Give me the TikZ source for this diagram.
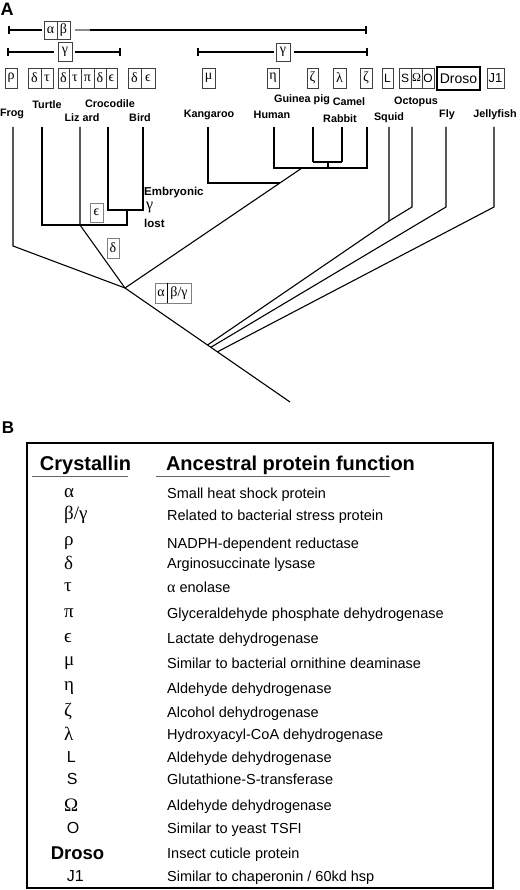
\documentclass[tikz,border=0pt]{standalone}
\usepackage{fontspec}
\setmainfont{Liberation Sans}
\newfontfamily\grk{Liberation Serif}
\usetikzlibrary{calc}

\tikzset{
  spc/.style={inner sep=0pt, font=\fontsize{10.8}{13}\selectfont\bfseries},
  cell/.style={draw=black!75, line width=0.6pt, inner sep=0pt, minimum height=20pt,
    font=\grk\fontsize{14}{16}\selectfont},
  latcell/.style={cell, font=\fontsize{12}{14}\selectfont},
  rng/.style={line width=1.2pt},
  tree/.style={line width=1.1pt},
  sym/.style={inner sep=0pt, font=\grk\fontsize{19}{21}\selectfont},
  fn/.style={inner sep=0pt, font=\fontsize{14.5}{17}\selectfont},
  hdr/.style={inner sep=0pt, font=\fontsize{20}{22}\selectfont\bfseries},
  panel/.style={inner sep=0pt, font=\fontsize{18}{20}\selectfont\bfseries}
}

\begin{document}
\begin{tikzpicture}[x=1pt,y=-1pt]
\useasboundingbox (0,0) rectangle (519,890);

\begin{scope} %PANEL A
\node[panel] (pa) at (7,9) {A};

% ranges
\node[cell, minimum width=13pt, minimum height=18pt] (ra) at (50.5,30) {α};
\node[cell, minimum width=13pt, minimum height=18pt] (rb) at (63.5,30) {β};
\coordinate (r1l) at (9,30); \coordinate (r1g) at (90,30); \coordinate (r1r) at (366,30);
\draw[rng] (r1l) -- ([xshift=-2pt]ra.west);
\draw[rng, black!45] ([xshift=5pt]rb.east) -- (r1g);
\draw[rng] (r1g) -- (r1r);
\draw[rng] (r1l) ++(0,-4) -- ++(0,8);
\draw[rng] (r1r) ++(0,-4) -- ++(0,8);

\node[cell, minimum width=14pt, minimum height=19pt] (rg1) at (65,52) {γ};
\coordinate (r2l) at (8,52); \coordinate (r2r) at (120,52);
\draw[rng] (r2l) -- ([xshift=-4pt]rg1.west);
\draw[rng] ([xshift=3pt]rg1.east) -- (r2r);
\draw[rng] (r2l) ++(0,-4) -- ++(0,8);
\draw[rng] (r2r) ++(0,-4) -- ++(0,8);

\node[cell, minimum width=14pt, minimum height=18pt] (rg2) at (283,52) {γ};
\coordinate (r3l) at (198,52); \coordinate (r3r) at (367,52);
\draw[rng] (r3l) -- ([xshift=-2pt]rg2.west);
\draw[rng] ([xshift=4pt]rg2.east) -- (r3r);
\draw[rng] (r3l) ++(0,-4) -- ++(0,8);
\draw[rng] (r3r) ++(0,-4) -- ++(0,8);

% crystallin boxes
\node[cell, minimum width=12pt] (c1) at (11,78) {ρ};
\node[cell, minimum width=13pt] (c2) at (34.5,78) {δ};
\node[cell, minimum width=12pt] (c3) at (47,78) {τ};
\node[cell, minimum width=11pt] (c4) at (63.5,78) {δ};
\node[cell, minimum width=12pt] (c5) at (75,78) {τ};
\node[cell, minimum width=13pt] (c6) at (87.5,78) {π};
\node[cell, minimum width=12pt] (c7) at (100,78) {δ};
\node[cell, minimum width=11pt] (c8) at (111.5,78) {ϵ};
\node[cell, minimum width=13pt] (c9) at (134.5,78) {δ};
\node[cell, minimum width=14pt] (c10) at (148,78) {ϵ};
\node[cell, minimum width=13pt] (c11) at (208.5,78) {μ};
\node[cell, minimum width=12pt] (c12) at (273,78) {η};
\node[cell, minimum width=11pt] (c13) at (312.5,78) {ζ};
\node[cell, minimum width=13pt] (c14) at (339.5,78) {λ};
\node[cell, minimum width=12pt] (c15) at (366,78) {ζ};
\node[latcell, minimum width=11pt] (c16) at (387.5,78) {L};
\node[latcell, minimum width=12pt] (c17) at (405,78) {S};
\node[cell, minimum width=11pt, font=\grk\fontsize{12}{14}\selectfont] (c18) at (416.5,78) {Ω};
\node[latcell, minimum width=12pt] (c19) at (428,78) {O};
\node[latcell, draw=black, line width=1.2pt, minimum width=43pt, minimum height=23pt,
  font=\fontsize{14}{16}\selectfont] (c20) at (458.5,78.5) {Droso};
\node[latcell, minimum width=17pt, font=\fontsize{13}{15}\selectfont] (c21) at (495.5,78) {J1};

% species
\node[spc] (frog) at (12,114) {Frog};
\node[spc] (turtle) at (47,105) {Turtle};
\node[spc] (croc) at (110,104) {Crocodile};
\node[spc] (lizard) at (82,118) {Liz ard};
\node[spc] (bird) at (140,118) {Bird};
\node[spc] (kang) at (209,115) {Kangaroo};
\node[spc] (human) at (272,115) {Human};
\node[spc] (guinea) at (302,100) {Guinea pig};
\node[spc] (camel) at (349,102) {Camel};
\node[spc] (rabbit) at (340,119) {Rabbit};
\node[spc] (squid) at (389,118) {Squid};
\node[spc] (octo) at (416,102) {Octopus};
\node[spc] (fly) at (447,115) {Fly};
\node[spc] (jelly) at (495,115) {Jellyfish};

% tree
\coordinate (frogT) at (13,127);  \coordinate (frogK) at (13,246);
\coordinate (turtT) at (42,127);  \coordinate (turtK) at (42,225);
\coordinate (lizT) at (80,127);   \coordinate (lizK) at (80,225);
\coordinate (rept) at (127,225);  \coordinate (archK) at (127,210);
\coordinate (crocT) at (108,127); \coordinate (crocK) at (108,210);
\coordinate (birdT) at (143,127); \coordinate (birdK) at (143,210);
\coordinate (vroot) at (125,288); \coordinate (mamK) at (302,168);
\coordinate (root) at (290,402);
\coordinate (kanT) at (208,127);  \coordinate (kanK) at (208,183);
\coordinate (kanJ) at ($(vroot)!0.875!(mamK)$);
\coordinate (humT) at (274,127);  \coordinate (humK) at (274,168);
\coordinate (camT) at (367,127);  \coordinate (camK) at (367,168);
\coordinate (guiT) at (313,127);  \coordinate (guiK) at (313,162);
\coordinate (rabT) at (342,127);  \coordinate (rabK) at (342,162);
\coordinate (gloK) at (328,162);  \coordinate (gloJ) at (328,168);
\coordinate (squT) at (389,127);  \coordinate (squK) at (389,221);
\coordinate (octT) at (412,127);  \coordinate (octK) at (412,207);
\coordinate (flyT) at (446,127);  \coordinate (flyK) at (446,207);
\coordinate (jelT) at (494,127);  \coordinate (jelK) at (494,207);
\coordinate (invJ) at ($(vroot)!0.5!(root)$);
\coordinate (flyJ) at ($(vroot)!0.52!(root)$);
\coordinate (jelJ) at ($(vroot)!0.56!(root)$);

\draw[tree] (frogT) -- (frogK) -- (vroot);
\draw[tree] (turtT) -- (turtK) -- (rept) -- (archK);
\draw[tree] (lizT) -- (lizK) -- (vroot);
\draw[tree] (crocT) -- (crocK) -- (birdK) -- (birdT);
\draw[tree] (vroot) -- (mamK);
\draw[tree] (vroot) -- (root);
\draw[tree] (kanT) -- (kanK) -- (kanJ);
\draw[tree] (humT) -- (humK) -- (camK) -- (camT);
\draw[tree] (guiT) -- (guiK);
\draw[tree] (rabT) -- (rabK);
\draw[tree, line width=1.7pt] (guiK) -- (rabK);
\draw[tree] (gloK) -- (gloJ);
\draw[tree] (octT) -- (octK) -- (squK);
\draw[tree] (squT) -- (squK) -- (invJ);
\draw[tree] (flyT) -- (flyK) -- (flyJ);
\draw[tree] (jelT) -- (jelK) -- (jelJ);

% events
\node[cell, draw=black!50, minimum width=13pt, minimum height=19pt] (evE) at (96.5,212.5) {ϵ};
\node[cell, draw=black!50, minimum width=12pt, minimum height=20pt] (evD) at (113,248) {δ};
\node[cell, draw=black!50, minimum width=12pt] (evA) at (161,293) {α};
\node[cell, draw=black!50, minimum width=24pt] (evB) at (179,293) {β/γ};
\draw[line width=1.3pt] (evA.north east) -- (evA.south east);
\node[spc, anchor=west, font=\fontsize{11.5}{13}\selectfont\bfseries] (emb) at (144,193) {Embryonic};
\node[inner sep=0pt, anchor=west, font=\grk\fontsize{16}{18}\selectfont] (embg) at (146,208) {γ};
\node[spc, anchor=west, font=\fontsize{11.5}{13}\selectfont\bfseries] (embl) at (144,223) {lost};
\end{scope}

\begin{scope} %PANEL B
\node[panel, font=\fontsize{17}{19}\selectfont\bfseries] (pb) at (8,428) {B};
\draw[line width=1.6pt] (27,443) rectangle (493,888);
\node[hdr] (hc) at (85.5,465) {Crystallin};
\node[hdr] (hf) at (290.5,465) {Ancestral protein function};
\draw[line width=1pt, black!60] (32,476) -- (128,476);
\draw[line width=1pt, black!60] (156,476) -- (390,476);

\foreach \y/\s/\f [count=\i] in {
  493/α/Small heat shock protein,
  515/{β/γ}/Related to bacterial stress protein,
  543/ρ/NADPH-dependent reductase,
  563/δ/Arginosuccinate lysase,
  587/τ/{{\grk\fontsize{16}{17}\selectfont α} enolase},
  613/π/Glyceraldehyde phosphate dehydrogenase,
  638/ϵ/Lactate dehydrogenase,
  663/μ/Similar to bacterial ornithine deaminase,
  688/η/Aldehyde dehydrogenase,
  712/ζ/Alcohol dehydrogenase,
  734/λ/Hydroxyacyl-CoA dehydrogenase,
  757/{\normalfont\fontsize{16}{18}\selectfont\,L}/Aldehyde dehydrogenase,
  779/{\normalfont\fontsize{16}{18}\selectfont\,S}/Glutathione-S-transferase,
  805/Ω/Aldehyde dehydrogenase,
  828/{\normalfont\fontsize{16}{18}\selectfont\,O}/Similar to yeast TSFI,
  876/{\normalfont\fontsize{16}{18}\selectfont\,J1}/{Similar to chaperonin / 60kd hsp}}{
  \node[sym, anchor=west] (s\i) at (64,\y) {\s};
  \node[fn, anchor=base west] (f\i) at (167,\y+5) {\f};
}
\node[inner sep=0pt, font=\fontsize{18.5}{20}\selectfont\bfseries] (sdroso) at (77.5,853) {Droso};
\node[fn, anchor=base west] (fdroso) at (167,858) {Insect cuticle protein};
\end{scope}
\end{tikzpicture}
\end{document}
